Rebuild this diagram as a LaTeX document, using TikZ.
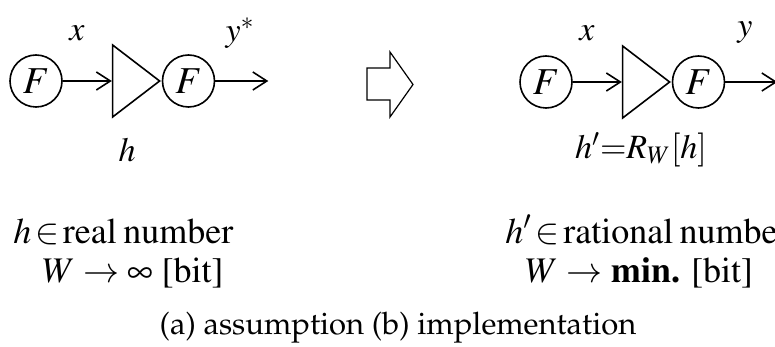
\documentclass[tikz,border=0pt]{standalone}
\usepackage[T1]{fontenc}
\usepackage{mathptmx}
\usepackage{tikz}
\usetikzlibrary{positioning,arrows.meta,shapes.geometric}

\newcommand{\capfont}{\fontfamily{ppl}\selectfont}

\begin{document}
\begin{tikzpicture}[
    x=0.5pt, y=-0.5pt,
    fnode/.style={circle, draw, line width=0.8pt, minimum size=26pt, inner sep=0pt, font=\fontsize{19}{21}\selectfont},
    amp/.style={isosceles triangle, draw, line width=0.8pt, isosceles triangle stretches, minimum width=36pt, minimum height=23.5pt, inner sep=0pt},
    sig/.style={font=\fontsize{17}{19}\selectfont, inner sep=0pt},
    cond/.style={font=\fontsize{18}{20}\selectfont, anchor=base west, inner sep=0pt},
    capt/.style={font=\capfont\fontsize{15.5}{17}\selectfont},
    arr/.style={-{Straight Barb[length=7pt, width=9pt]}, line width=0.8pt},
    node distance=24.5pt
]
\useasboundingbox (0,0) rectangle (775,347);

% ---- (a) assumption
\node[fnode] (fa1) at (36,81) {$F$};
\node[amp, right=of fa1] (amp1) {};
\node[fnode, right=0pt of amp1.apex] (fa2) {$F$};
\coordinate[right=26.5pt of fa2] (ya);

\node[sig] (xa)    at (77,33)  {$x$};
\node[sig] (ystar) at (240,33) {$y^{*}$};
\node[sig] (ha)    at (127,150) {$h$};

% ---- block arrow
\draw[line width=0.6pt] (367,68) -- (390,68) -- (390,52) -- (413,84.5)
    -- (390,117) -- (390,100) -- (367,100) -- cycle;

% ---- (b) implementation
\node[fnode] (fb1) at (546,82) {$F$};
\node[amp, right=of fb1] (amp2) {};
\node[fnode, right=0pt of amp2.apex] (fb2) {$F$};
\coordinate[right=26pt of fb2] (yb);

\node[sig] (xb)   at (587,33)  {$x$};
\node[sig] (ylbl) at (745,33)  {$y$};
\node[sig] (hb)   at (641,150) {$h'{=}R_W[h]$};

% ---- conditions
\node[cond] (ca1) at (13,243)  {$h\,{\in}$\hspace{0.1em}real\hspace{0.18em}number};
\node[cond] (ca2) at (42,282)  {$W\rightarrow\infty$ [bit]};
\node[cond] (cb1) at (505,243) {$h'\,{\in}$\hspace{0.1em}rational\hspace{0.18em}number};
\node[cond] (cb2) at (525,282) {$W\rightarrow$ \textbf{min.} [bit]};

\node[capt] (cap) at (398,328) {(a) assumption (b) implementation};

\draw[arr] (fa1) -- (amp1);
\draw[arr] (fa2) -- (ya);
\draw[arr] (fb1) -- (amp2);
\draw[arr] (fb2) -- (yb);

\end{tikzpicture}
\end{document}
